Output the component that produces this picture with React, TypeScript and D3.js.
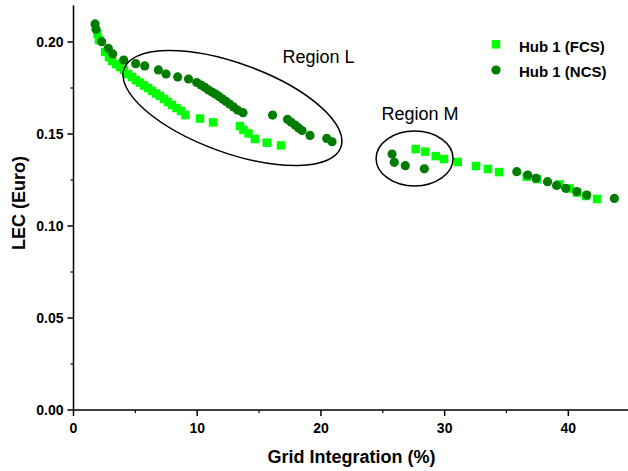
import React from "react";
import * as d3 from "d3";

const fcsX = [1.94, 2.06, 2.55, 2.87, 3.11, 3.44, 3.76, 4.08, 4.41, 4.73, 5.05, 5.38, 5.7, 6.02, 6.35, 6.67, 6.99, 7.32, 7.64, 7.96, 8.33, 8.69, 9.05, 10.23, 11.28, 13.46, 13.74, 14.15, 14.67, 15.62, 16.77, 27.66, 28.42, 29.28, 29.95, 31.06, 32.54, 33.51, 34.4, 36.64, 37.47, 39.29, 40.1, 40.7, 41.43, 42.32];
const fcsY = [0.2043, 0.2011, 0.1946, 0.1918, 0.1897, 0.188, 0.1864, 0.1848, 0.1826, 0.181, 0.1793, 0.1779, 0.1764, 0.175, 0.1734, 0.172, 0.1707, 0.169, 0.1674, 0.1658, 0.1641, 0.1625, 0.1603, 0.1584, 0.1563, 0.1543, 0.1522, 0.1503, 0.1473, 0.1453, 0.1438, 0.1418, 0.1404, 0.138, 0.1364, 0.1348, 0.1326, 0.131, 0.1293, 0.1268, 0.1255, 0.1226, 0.1204, 0.1182, 0.1163, 0.1147];

const ncsX = [1.74, 1.82, 2.28, 2.81, 3.17, 4.06, 5.03, 5.76, 6.86, 7.48, 8.42, 9.3, 9.96, 10.31, 10.63, 10.91, 11.2, 11.48, 11.76, 12.05, 12.33, 12.61, 12.93, 13.26, 13.7, 16.09, 17.3, 17.58, 17.91, 18.19, 18.47, 19.12, 20.47, 20.9, 25.75, 25.93, 26.82, 28.36, 35.83, 36.72, 37.39, 38.32, 39.05, 39.79, 40.68, 41.49, 43.72];
const ncsY = [0.2098, 0.2069, 0.2002, 0.1966, 0.1935, 0.1902, 0.1882, 0.187, 0.1848, 0.1826, 0.181, 0.1799, 0.178, 0.1766, 0.1753, 0.1739, 0.1728, 0.1717, 0.1704, 0.169, 0.1677, 0.1663, 0.1647, 0.163, 0.1616, 0.1603, 0.1579, 0.1565, 0.1549, 0.1533, 0.1519, 0.1492, 0.1476, 0.1458, 0.1391, 0.1346, 0.1328, 0.1311, 0.1295, 0.1277, 0.1259, 0.1241, 0.122, 0.1205, 0.1187, 0.1168, 0.115];

const xMajor = [0, 10, 20, 30, 40];
const xMinor = [5, 15, 25, 35, 45];
const yMajor = [0, 0.05, 0.1, 0.15, 0.2];
const yMinor = [0.025, 0.075, 0.125, 0.175];

const seriesNames = ["Hub 1 (FCS)", "Hub 1 (NCS)"];
const colors = ["#00FF00", "#007D00"];

const FONT = "'Liberation Sans', Arial, sans-serif";

export default function App() {
  const W = 628, H = 471;
  const x = d3.scaleLinear().domain([0, 45]).range([73.5, 630.2]);
  const y = d3.scaleLinear().domain([0, 0.22]).range([410, 5.2]);
  const x0 = x(0), y0 = y(0);
  const sq = 8.5, r = 4.6;

  return (
    <svg width={W} height={H} style={{ position: "absolute", left: 0, top: 0, background: "#fff" }} fontFamily={FONT}>
      <rect width={W} height={H} fill="#fff" />
      {/* FCS squares */}
      {fcsX.map((v, i) => (
        <rect key={"f" + i} x={x(v) - sq / 2} y={y(fcsY[i]) - sq / 2} width={sq} height={sq} fill={colors[0]} />
      ))}
      {/* NCS circles */}
      {ncsX.map((v, i) => (
        <circle key={"n" + i} cx={x(v)} cy={y(ncsY[i])} r={r} fill={colors[1]} />
      ))}

      {/* annotations */}
      <ellipse cx={x(12.85)} cy={y(0.1641)} rx={115.3} ry={44.7} fill="none" stroke="#000" strokeWidth={1.5}
        transform={`rotate(19.9 ${x(12.85)} ${y(0.1641)})`} />
      <ellipse cx={x(27.57)} cy={y(0.1367)} rx={38.5} ry={27.5} fill="none" stroke="#000" strokeWidth={1.5} />
      <text x={x(16.9)} y={y(0.1886)} fontSize={18} fill="#000">Region L</text>
      <text x={x(24.9)} y={y(0.1576)} fontSize={18} fill="#000">Region M</text>

      {/* axes */}
      <line x1={x0} x2={x0} y1={y(0.22)} y2={y0 + 0.75} stroke="#000" strokeWidth={1.5} />
      <line x1={x0 - 0.75} x2={W} y1={y0} y2={y0} stroke="#000" strokeWidth={1.5} />
      {yMajor.map((v) => (
        <g key={"ym" + v}>
          <line x1={x0 - 6} x2={x0} y1={y(v)} y2={y(v)} stroke="#000" strokeWidth={1.5} />
          <text x={x0 - 10} y={y(v)} dy="0.36em" textAnchor="end" fontSize={14} fontWeight="bold">{v.toFixed(2)}</text>
        </g>
      ))}
      {yMinor.map((v) => (
        <line key={"yn" + v} x1={x0 - 3} x2={x0} y1={y(v)} y2={y(v)} stroke="#000" strokeWidth={1.2} />
      ))}
      {xMajor.map((v) => (
        <g key={"xm" + v}>
          <line x1={x(v)} x2={x(v)} y1={y0} y2={y0 + 6} stroke="#000" strokeWidth={1.5} />
          <text x={x(v)} y={y0 + 23} textAnchor="middle" fontSize={14} fontWeight="bold">{v}</text>
        </g>
      ))}
      {xMinor.map((v) => (
        <line key={"xn" + v} x1={x(v)} x2={x(v)} y1={y0} y2={y0 + 3} stroke="#000" strokeWidth={1.2} />
      ))}
      <text x={351.5} y={463} textAnchor="middle" fontSize={18} fontWeight="bold">Grid Integration (%)</text>
      <text transform="translate(25,203) rotate(-90)" textAnchor="middle" fontSize={18} fontWeight="bold">LEC (Euro)</text>

      {/* legend */}
      <rect x={496 - sq / 2} y={44.3 - sq / 2} width={sq} height={sq} fill={colors[0]} />
      <text x={519} y={51.5} fontSize={15} fontWeight="bold">{seriesNames[0]}</text>
      <circle cx={496} cy={70} r={r} fill={colors[1]} />
      <text x={519} y={77.3} fontSize={15} fontWeight="bold">{seriesNames[1]}</text>
    </svg>
  );
}
